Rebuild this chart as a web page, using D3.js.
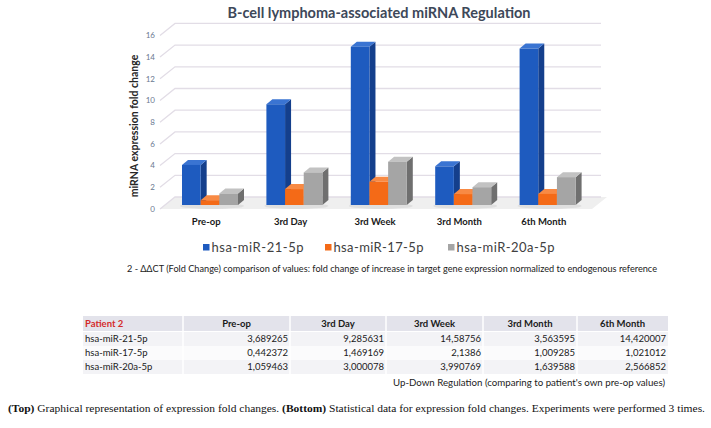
<!DOCTYPE html>
<meta charset="utf-8">
<script src="https://d3js.org/d3.v7.min.js"></script>
<style>
  body { margin: 0; background: #fff; }
  text { font-family: Lato, "Open Sans", sans-serif; }
  text.serif { font-family: "Liberation Serif", "DejaVu Serif", serif; }
</style>
<div id="chart"></div>
<script>
const categories = ["Pre-op", "3rd Day", "3rd Week", "3rd Month", "6th Month"]
const seriesNames = ["hsa-miR-21-5p", "hsa-miR-17-5p", "hsa-miR-20a-5p"]
const mir21 = [3.689265, 9.285631, 14.58756, 3.563595, 14.420007]
const mir17 = [0.442372, 1.469169, 2.1386, 1.009285, 1.021012]
const mir20a = [1.059463, 3.000078, 3.990769, 1.639588, 2.566852]
const yTicks = [0, 2, 4, 6, 8, 10, 12, 14, 16]

const seriesValues = [mir21, mir17, mir20a]
const faceColors = [
  {front: "#1e5bbf", side: "#143f8c", top: "#3a74d2"},
  {front: "#f46a17", side: "#c5500d", top: "#f88a44"},
  {front: "#a5a5a5", side: "#6f6f6f", top: "#c2c2c2"}
]

const W = 711, H = 428
const svg = d3.select("#chart").append("svg")
    .attr("width", W).attr("height", H)

// 3d offsets
const depth = {dx: 6, dy: -5}
const wall = {dx: 15, dy: -8}

const x = d3.scaleBand().domain(categories).range([168, 590])
const x1 = d3.scaleBand().domain(seriesNames).range([14, 70])
const y = d3.scaleLinear().domain([0, 16]).range([205, 205 - 16 * 10.85])

// title
svg.append("text")
    .attr("x", 379).attr("y", 18)
    .attr("text-anchor", "middle")
    .attr("font-size", 14.5).attr("font-weight", "bold")
    .attr("fill", "#3d4859")
    .text("B-cell lymphoma-associated miRNA Regulation")

// floor
svg.append("polygon")
    .attr("points", [[160, y(0) + 4], [592, y(0) + 4], [592 + wall.dx, y(0) + wall.dy], [160 + wall.dx, y(0) + wall.dy]].join(" "))
    .attr("fill", "#efefef")

// gridlines with perspective
const grid = svg.append("g")
grid.selectAll("path").data(yTicks).join("path")
    .attr("d", d => `M160,${y(d) + 4}L${160 + wall.dx},${y(d) + wall.dy}L601,${y(d) + wall.dy}`)
    .attr("fill", "none")
    .attr("stroke", "#e2dde6").attr("stroke-width", 1.3)

grid.selectAll("text").data(yTicks).join("text")
    .attr("x", 155).attr("y", d => y(d) + 4)
    .attr("dy", "0.35em")
    .attr("text-anchor", "end")
    .attr("font-size", 8).attr("fill", "#6a7890")
    .text(d => d)

// y axis title
svg.append("text")
    .attr("transform", "translate(138,126) rotate(-90)")
    .attr("text-anchor", "middle")
    .attr("font-size", 10.5).attr("font-weight", "bold")
    .attr("fill", "#262626")
    .text("miRNA expression fold change")

// bar shadows on floor
svg.append("g").selectAll("ellipse").data(categories).join("ellipse")
    .attr("cx", d => x(d) + 44).attr("cy", y(0) + 1)
    .attr("rx", 32).attr("ry", 3)
    .attr("fill", "#d9d9d9").attr("opacity", 0.7)

// 3d bars
const bars = svg.append("g")
seriesNames.forEach(function(s, si) {
    const g = bars.append("g")
    const c = faceColors[si]
    const rows = categories.map((cat, i) => ({cat: cat, v: seriesValues[si][i]}))
    const bw = x1.bandwidth()
    const bx = d => x(d.cat) + x1(s)
    g.selectAll(".side").data(rows).join("polygon")
        .attr("points", d => [[bx(d) + bw, y(d.v)], [bx(d) + bw + depth.dx, y(d.v) + depth.dy],
                              [bx(d) + bw + depth.dx, y(0) + depth.dy], [bx(d) + bw, y(0)]].join(" "))
        .attr("fill", c.side)
    g.selectAll(".top").data(rows).join("polygon")
        .attr("points", d => [[bx(d), y(d.v)], [bx(d) + depth.dx, y(d.v) + depth.dy],
                              [bx(d) + bw + depth.dx, y(d.v) + depth.dy], [bx(d) + bw, y(d.v)]].join(" "))
        .attr("fill", c.top)
    g.selectAll(".front").data(rows).join("rect")
        .attr("x", bx).attr("y", d => y(d.v))
        .attr("width", bw).attr("height", d => y(0) - y(d.v))
        .attr("fill", c.front)
})

// category labels
svg.append("g").selectAll("text").data(categories).join("text")
    .attr("x", d => x(d) + x.bandwidth() / 2 - 4).attr("y", 225)
    .attr("text-anchor", "middle")
    .attr("font-size", 9.5).attr("font-weight", "bold")
    .attr("fill", "#1a1a1a")
    .text(d => d)

// legend
const legX = [203, 325, 448]
const legend = svg.append("g").selectAll("g").data(seriesNames).join("g")
    .attr("transform", (d, i) => `translate(${legX[i]},247)`)
legend.append("rect")
    .attr("x", 0).attr("y", -3).attr("width", 6.5).attr("height", 6.5)
    .attr("fill", (d, i) => faceColors[i].front)
legend.append("text")
    .attr("x", 8.5).attr("y", 0).attr("dy", "0.36em")
    .attr("font-size", 13).attr("fill", "#404040")
    .attr("textLength", (d, i) => [92, 90, 98][i]).attr("lengthAdjust", "spacing")
    .text(d => d)

// note under the chart
svg.append("text")
    .attr("x", 127).attr("y", 269).attr("dy", "0.35em")
    .attr("font-size", 9).attr("fill", "#222")
    .attr("textLength", 530).attr("lengthAdjust", "spacingAndGlyphs")
    .text("2 - \u0394\u0394CT (Fold Change) comparison of values: fold change of increase in target gene expression normalized to endogenous reference")

// table
const colEdges = [83, 183, 290, 386, 483, 577, 668]
const rowY = [316, 330, 346, 360, 374]
const fmt = v => String(v).replace(".", ",")
const tbl = svg.append("g")
const rowFill = ["#e3e3eb", "#f3f3f6", "#fbfbfc", "#f3f3f6"]
rowFill.forEach(function(f, r) {
    tbl.append("rect")
        .attr("x", colEdges[0]).attr("y", r === 0 ? rowY[0] : rowY[1] + (r - 1) * 14 + 2)
        .attr("width", colEdges[6] - colEdges[0]).attr("height", r === 0 ? 15 : 14)
        .attr("fill", f)
})
tbl.selectAll("line").data(colEdges.slice(1, 6)).join("line")
    .attr("x1", d => d).attr("x2", d => d)
    .attr("y1", 316).attr("y2", 374)
    .attr("stroke", "#fff").attr("stroke-width", 1.5)

tbl.append("text")
    .attr("x", 85).attr("y", 323.5).attr("dy", "0.35em")
    .attr("font-size", 9.5).attr("font-weight", "bold").attr("fill", "#d42a2a")
    .text("Patient 2")
tbl.selectAll(".hd").data(categories).join("text")
    .attr("x", (d, i) => (colEdges[i + 1] + colEdges[i + 2]) / 2)
    .attr("y", 323.5).attr("dy", "0.35em")
    .attr("text-anchor", "middle")
    .attr("font-size", 9.5).attr("font-weight", "bold").attr("fill", "#1a1a1a")
    .text(d => d)

seriesNames.forEach(function(s, si) {
    const ty = 339 + si * 14
    tbl.append("text")
        .attr("x", 85).attr("y", ty).attr("dy", "0.35em")
        .attr("font-size", 9.5).attr("fill", "#1a1a1a")
        .text(s)
    tbl.append("g").selectAll("text").data(seriesValues[si]).join("text")
        .attr("x", (d, i) => colEdges[i + 2] - 2)
        .attr("y", ty).attr("dy", "0.35em")
        .attr("text-anchor", "end")
        .attr("font-size", 9.5).attr("fill", "#1a1a1a")
        .text(fmt)
})

svg.append("text")
    .attr("x", 393).attr("y", 383).attr("dy", "0.35em")
    .attr("font-size", 9.5).attr("fill", "#222")
    .attr("textLength", 272).attr("lengthAdjust", "spacingAndGlyphs")
    .text("Up-Down Regulation (comparing to patient's own pre-op values)")

// caption, in a serif face like the journal's
const cap = svg.append("text")
    .attr("class", "serif")
    .attr("x", 8).attr("y", 409).attr("dy", "0.35em")
    .attr("font-size", 9.5).attr("fill", "#111")
    .attr("textLength", 697).attr("lengthAdjust", "spacingAndGlyphs")
cap.append("tspan").attr("font-weight", "bold").text("(Top)")
cap.append("tspan").text(" Graphical representation of expression fold changes. ")
cap.append("tspan").attr("font-weight", "bold").text("(Bottom)")
cap.append("tspan").text(" Statistical data for expression fold changes. Experiments were performed 3 times.")
</script>
